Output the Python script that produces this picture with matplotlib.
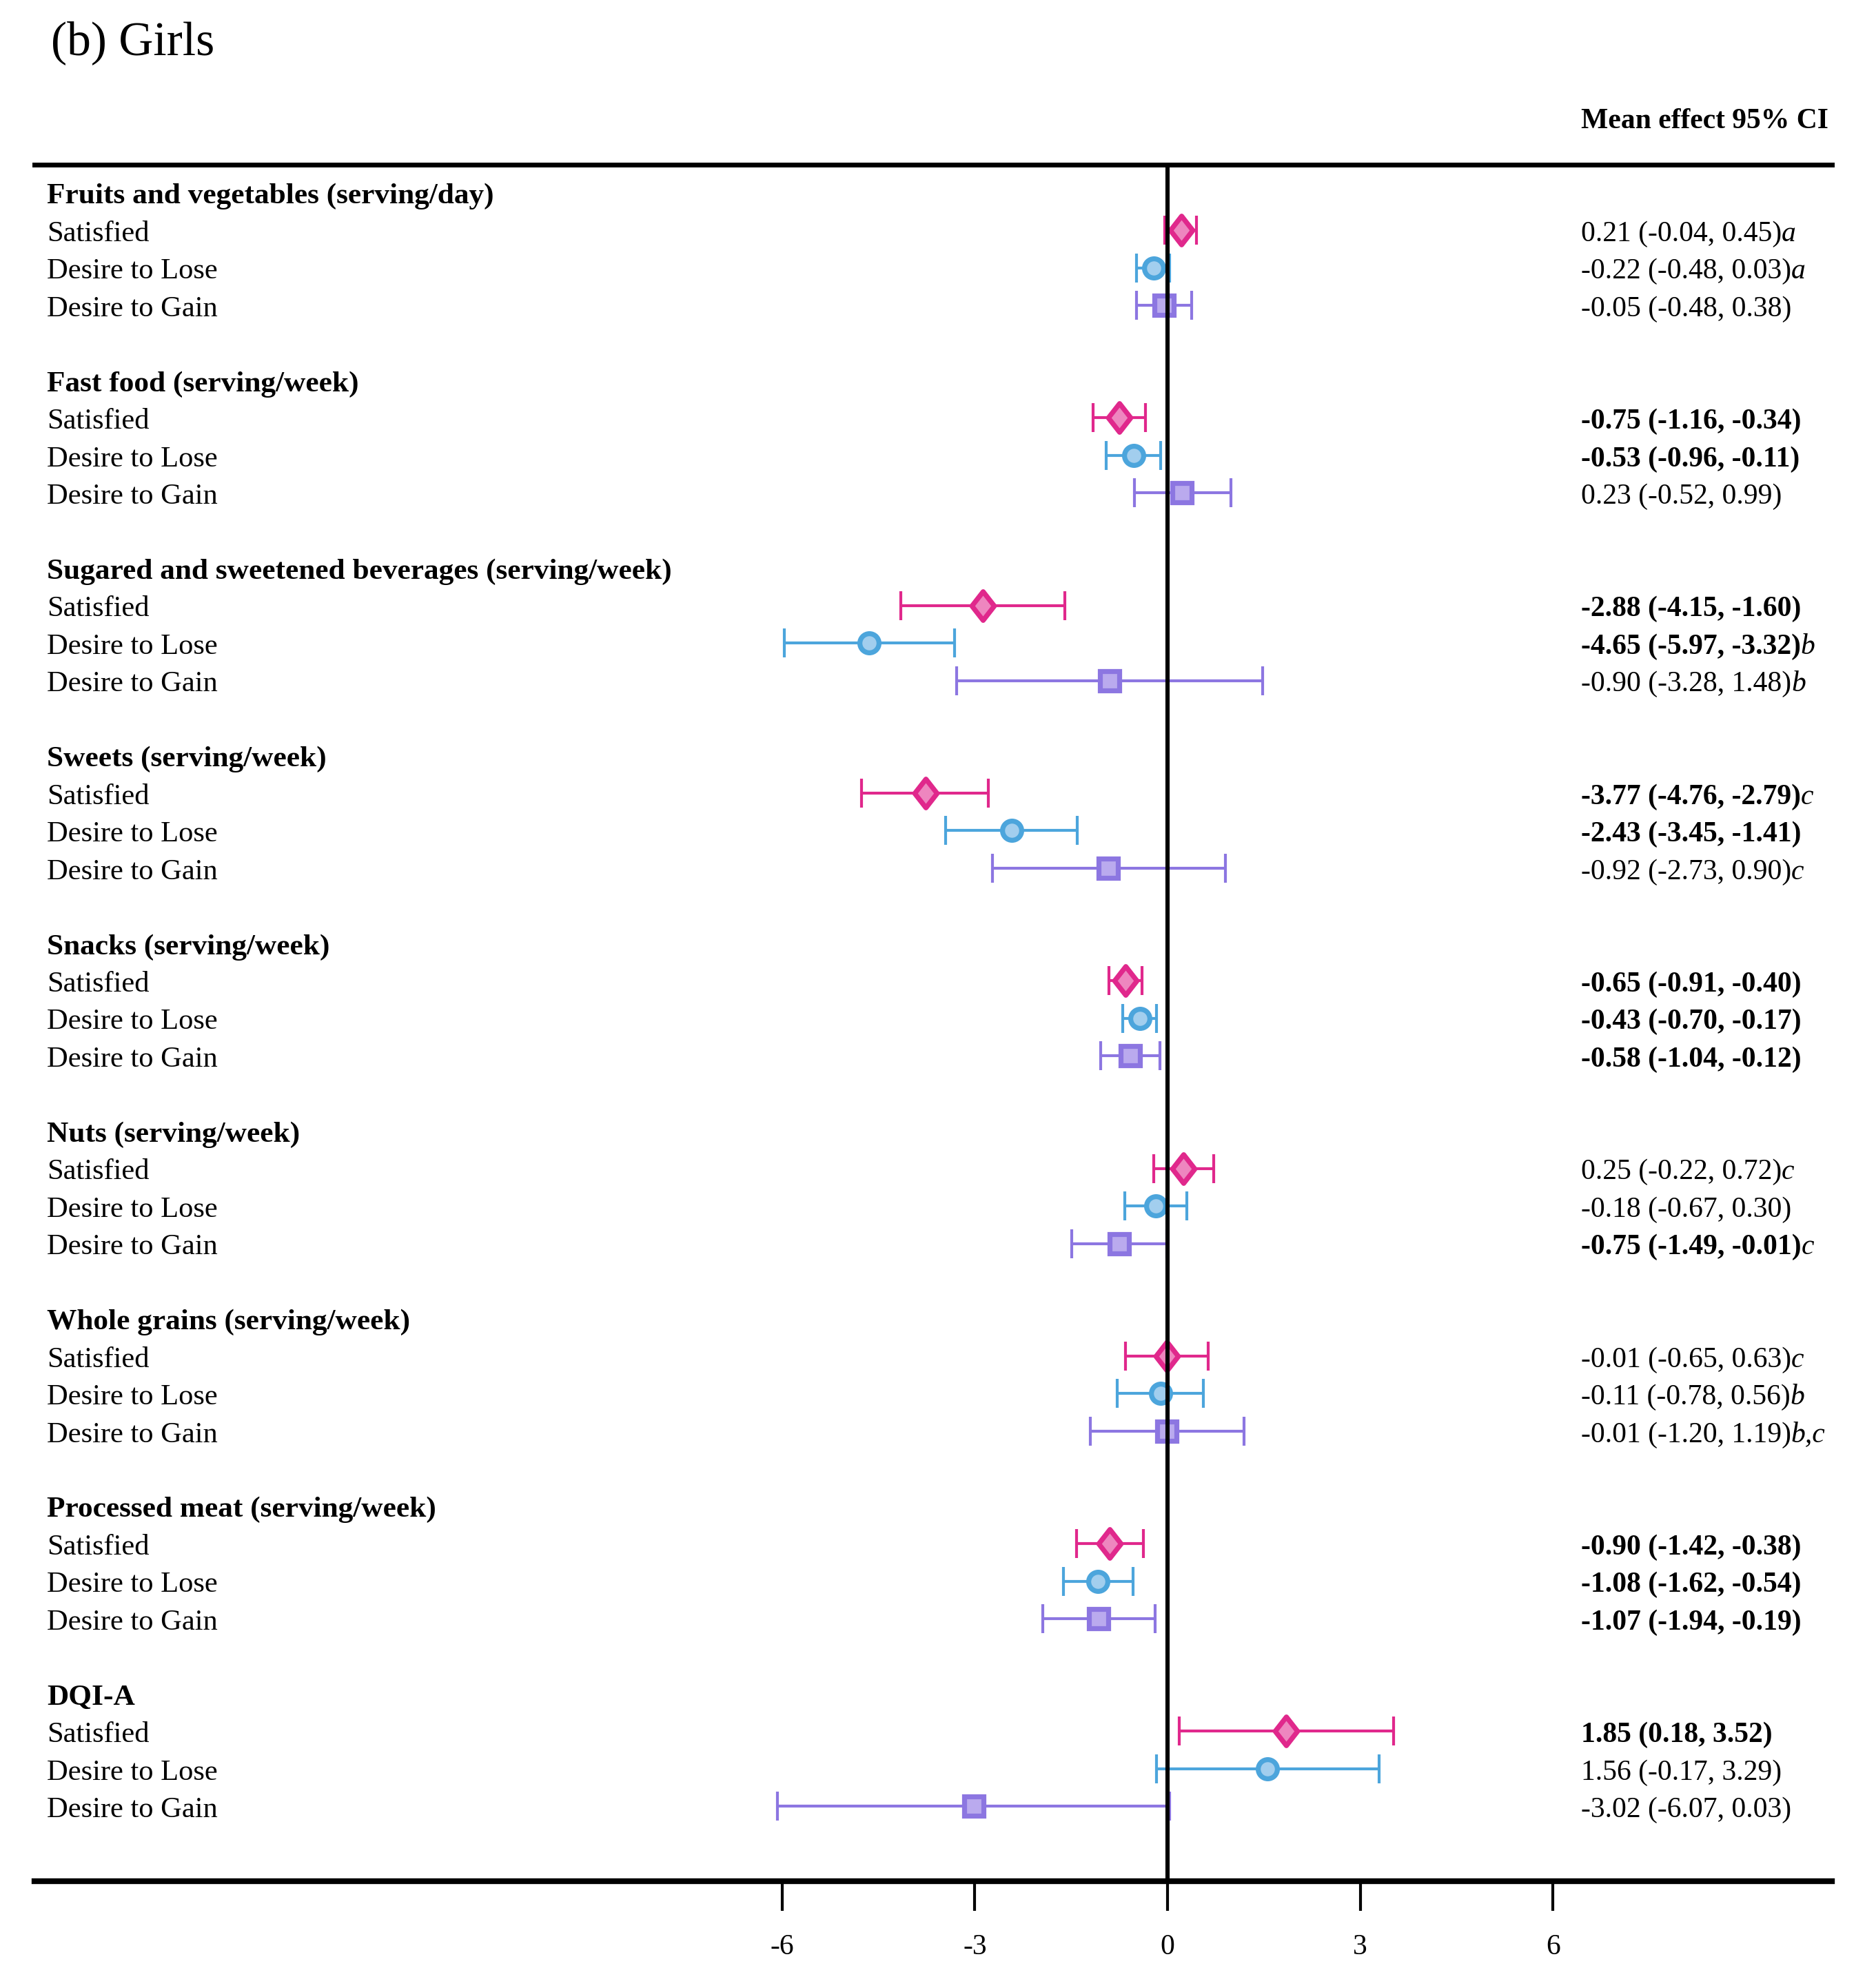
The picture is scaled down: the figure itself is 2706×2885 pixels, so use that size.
import numpy as np
import matplotlib.pyplot as plt
from matplotlib.markers import MarkerStyle
from matplotlib.path import Path
import matplotlib.transforms as mtransforms

plt.rcParams['font.family'] = ['Liberation Serif', 'DejaVu Serif']
plt.rcParams['font.size'] = 15
plt.rcParams['axes.unicode_minus'] = False

# Data (mean effect, 95% CI)
categories = ["Fruits and vegetables (serving/day)", "Fast food (serving/week)",
              "Sugared and sweetened beverages (serving/week)", "Sweets (serving/week)",
              "Snacks (serving/week)", "Nuts (serving/week)", "Whole grains (serving/week)",
              "Processed meat (serving/week)", "DQI-A"]
groups = ["Satisfied", "Desire to Lose", "Desire to Gain"]

satisfied_mean = [0.21, -0.75, -2.88, -3.77, -0.65, 0.25, -0.01, -0.90, 1.85]
satisfied_lo = [-0.04, -1.16, -4.15, -4.76, -0.91, -0.22, -0.65, -1.42, 0.18]
satisfied_hi = [0.45, -0.34, -1.60, -2.79, -0.40, 0.72, 0.63, -0.38, 3.52]
lose_mean = [-0.22, -0.53, -4.65, -2.43, -0.43, -0.18, -0.11, -1.08, 1.56]
lose_lo = [-0.48, -0.96, -5.97, -3.45, -0.70, -0.67, -0.78, -1.62, -0.17]
lose_hi = [0.03, -0.11, -3.32, -1.41, -0.17, 0.30, 0.56, -0.54, 3.29]
gain_mean = [-0.05, 0.23, -0.90, -0.92, -0.58, -0.75, -0.01, -1.07, -3.02]
gain_lo = [-0.48, -0.52, -3.28, -2.73, -1.04, -1.49, -1.20, -1.94, -6.07]
gain_hi = [0.38, 0.99, 1.48, 0.90, -0.12, -0.01, 1.19, -0.19, 0.03]

# significant results are printed in bold, superscript letters in italic
satisfied_bold = [False, True, True, True, True, False, False, True, True]
lose_bold = [False, True, True, True, True, False, False, True, False]
gain_bold = [False, False, False, False, True, True, False, True, False]
satisfied_note = ["a", "", "", "c", "", "c", "c", "", ""]
lose_note = ["a", "", "b", "", "", "", "b", "", ""]
gain_note = ["", "", "b", "c", "", "c", "b,c", "", ""]

tick_values = [-6, -3, 0, 3, 6]
tick_labels = ["-6", "-3", "0", "3", "6"]

# styles
diamond = MarkerStyle(Path([(0, 1), (0.78, 0), (0, -1), (-0.78, 0), (0, 1)],
                           [Path.MOVETO, Path.LINETO, Path.LINETO, Path.LINETO, Path.CLOSEPOLY]),
                      joinstyle='miter')
series = [
    (satisfied_mean, satisfied_lo, satisfied_hi, satisfied_bold, satisfied_note,
     '#E0288C', '#EE86BF', diamond, 15),
    (lose_mean, lose_lo, lose_hi, lose_bold, lose_note,
     '#4CA5DC', '#A2CEEE', 'o', 10),
    (gain_mean, gain_lo, gain_hi, gain_bold, gain_note,
     '#8C76E1', '#BAAAEE', 's', 10),
]

fig = plt.figure(figsize=(13.53, 14.425), dpi=200)
ax = fig.add_axes([0, 0, 1, 1])
ax.set_xlim(-18.176, 10.858)
ax.set_ylim(47.84, -5.135)

left_end, right_end = -17.64, 10.34
top_row, bottom_row = -0.743, 45.0
text_shift = 0.1  # text sits a little lower than the marks

for side in ['left', 'right']:
    ax.spines[side].set_visible(False)
ax.spines['top'].set_position(('data', top_row))
ax.spines['top'].set_bounds(left_end, right_end)
ax.spines['top'].set_linewidth(2.5)
ax.spines['bottom'].set_position(('data', bottom_row))
ax.spines['bottom'].set_bounds(left_end, right_end)
ax.spines['bottom'].set_linewidth(3)
ax.set_xticks(tick_values)
ax.set_xticklabels(tick_labels)
ax.set_yticks([])
ax.tick_params(axis='x', direction='out', length=15.5, width=1.5, pad=12, labelsize=15)

# zero line
ax.vlines(0, top_row, bottom_row, color='black', linewidth=2.2, zorder=5)

lab = mtransforms.blended_transform_factory(fig.transFigure, ax.transData)
x_left = 0.0252
x_right = 0.8477

for i, cat in enumerate(categories):
    base = 5 * i
    ax.text(x_left, base + text_shift, cat, transform=lab, fontweight='bold',
            fontsize=15.6, va='center', ha='left')
    for j, (m, lo, hi, bold, note, ec, fc, mk, ms) in enumerate(series):
        y = base + j + 1
        ax.text(x_left, y + text_shift, groups[j], transform=lab, fontsize=15.3,
                va='center', ha='left')
        ax.errorbar(m[i], y, xerr=[[m[i] - lo[i]], [hi[i] - m[i]]], fmt='none',
                    ecolor=ec, elinewidth=1.5, capsize=7.7, capthick=1.5, zorder=3)
        ax.plot(m[i], y, marker=mk, markersize=ms, markerfacecolor=fc,
                markeredgecolor=ec, markeredgewidth=2.6, linestyle='none', zorder=4)
        t = ax.text(x_right, y + text_shift, f"{m[i]:.2f} ({lo[i]:.2f}, {hi[i]:.2f})",
                    transform=lab, fontweight='bold' if bold[i] else 'normal',
                    va='center', ha='left')
        if note[i]:
            ax.annotate(note[i], xy=(1, 0), xycoords=t, va='bottom', ha='left',
                        fontstyle='italic')

ax.text(x_right, -2.0 + text_shift, "Mean effect 95% CI", transform=lab, fontweight='bold',
        va='center', ha='left')
ax.text(0.0272, -4.0, "(b) Girls", transform=lab, fontsize=25, va='center', ha='left')

fig.savefig('out.png', dpi=200)
